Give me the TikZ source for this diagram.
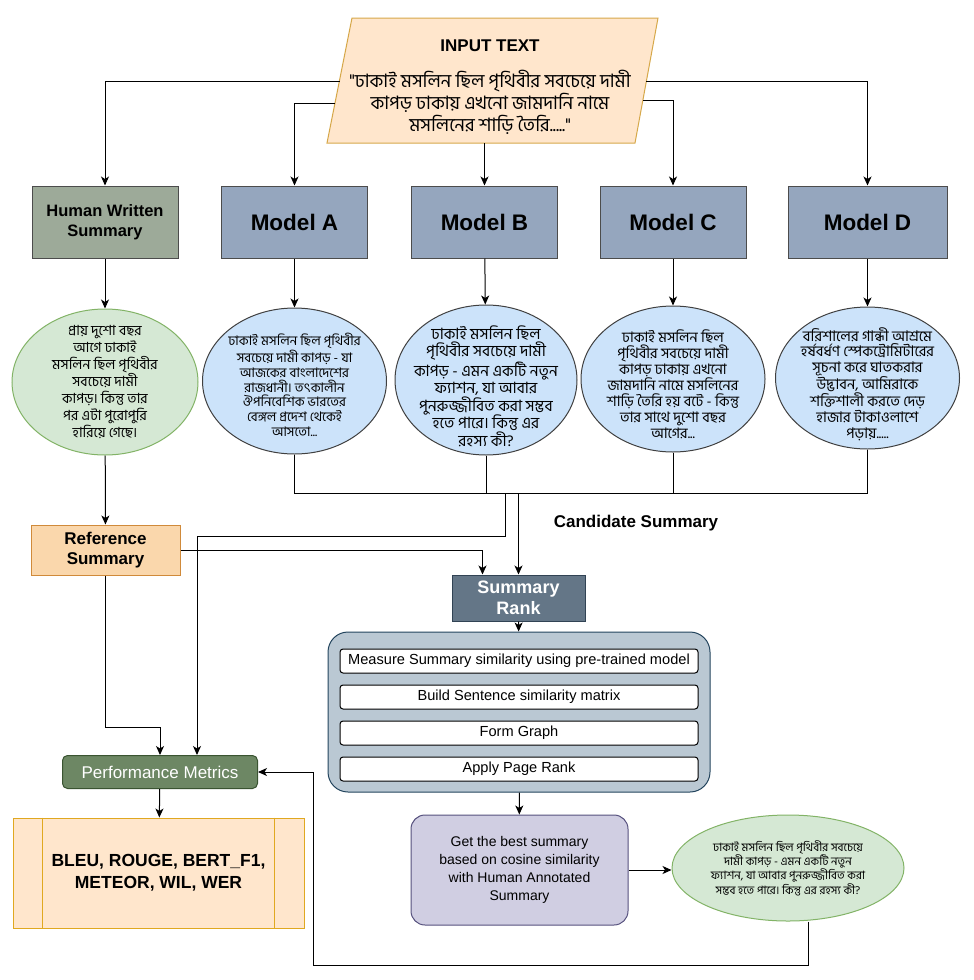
\documentclass[tikz,border=0pt]{standalone}
\usepackage{fontspec}
\setmainfont{Liberation Sans}
\newfontfamily\bn[Script=Bengali]{Hind Siliguri}
\usetikzlibrary{shapes.geometric,arrows.meta}

\definecolor{inputfill}{HTML}{FFE6CC}
\definecolor{inputline}{HTML}{D6A84A}
\definecolor{humanfill}{HTML}{9DAA99}
\definecolor{modelfill}{HTML}{95A6BE}
\definecolor{bluefill}{HTML}{CCE3FA}
\definecolor{greenfill}{HTML}{D5E8D4}
\definecolor{greenline}{HTML}{82B366}
\definecolor{reffill}{HTML}{FAD7AC}
\definecolor{refline}{HTML}{D08A3A}
\definecolor{rankfill}{HTML}{647687}
\definecolor{rankline}{HTML}{314354}
\definecolor{contfill}{HTML}{BAC8D3}
\definecolor{contline}{HTML}{23445D}
\definecolor{pmfill}{HTML}{6D8764}
\definecolor{pmline}{HTML}{3A5431}
\definecolor{metline}{HTML}{E0A820}
\definecolor{bestfill}{HTML}{D0CEE2}
\definecolor{bestline}{HTML}{56517E}

\begin{document}
\begin{tikzpicture}[x=1pt,y=-1pt,line width=1pt,
  arrow/.style={-{Stealth[length=9pt,width=8pt,inset=2.5pt]}},
  modelbox/.style={draw=black!70,fill=modelfill,minimum width=146pt,minimum height=72pt,font=\fontsize{22.5}{26}\selectfont\bfseries},
  blueell/.style={ellipse,draw=black!75,fill=bluefill,inner sep=0pt,minimum width=184pt,minimum height=146pt},
  greenell/.style={ellipse,draw=greenline,fill=greenfill,inner sep=0pt},
  bntext/.style={align=center,inner sep=0pt},
  stepbox/.style={draw=black,fill=white,rounded corners=3pt,minimum width=358pt,minimum height=24pt,font=\fontsize{14.6}{17}\selectfont}]

\useasboundingbox (0,0) rectangle (974,980);

% input
\draw[draw=inputline,fill=inputfill] (352,18) -- (658,18) -- (635,143) -- (327,143) -- cycle;
\node[bntext,font=\bn\fontsize{18.5}{22}\selectfont] (inputtxt) at (490,87)
  {{\rmfamily\bfseries\fontsize{17}{22}\selectfont INPUT TEXT}\\[14pt]
   "ঢাকাই মসলিন ছিল পৃথিবীর সবচেয়ে দামী\\
   কাপড় ঢাকায় এখনো জামদানি নামে\\
   মসলিনের শাড়ি তৈরি....."};
\coordinate (inW) at (339.5,81);
\coordinate (inW2) at (335,103);
\coordinate (inE) at (646,81);
\coordinate (inE2) at (643,100);
\coordinate (inS) at (485,143);

% summary boxes
\node[draw=black!70,fill=humanfill,minimum width=146pt,minimum height=72pt,align=center,
  font=\fontsize{16.5}{20}\selectfont\bfseries] (human) at (105,222) {Human Written\\Summary};
\node[modelbox] (modA) at (294.5,222) {Model A};
\node[modelbox] (modB) at (484.5,222) {Model B};
\node[modelbox] (modC) at (673,222) {Model C};
\node[modelbox,minimum width=159pt] (modD) at (867.5,222) {Model D};

\draw[arrow] (inW) -| (human.north);
\draw[arrow] (inW2) -| (modA.north);
\draw[arrow] (inS -| modB.north) -- (modB.north);
\draw[arrow] (inE2) -| (modC.north);
\draw[arrow] (inE) -| (modD.north);

% generated summaries
\node[greenell,minimum width=186pt,minimum height=146pt] (eH) at (105,382) {};
\node[bntext,font=\bn\fontsize{14}{17}\selectfont] (tH) at (eH)
  {প্রায় দুশো বছর\\আগে ঢাকাই\\মসলিন ছিল পৃথিবীর\\সবচেয়ে দামী\\কাপড়। কিন্তু তার\\পর এটা পুরোপুরি\\হারিয়ে গেছে।};
\node[blueell] (eA) at (294.5,381) {};
\node[bntext,font=\bn\fontsize{13.2}{14.8}\selectfont] (tA) at ([yshift=-4pt]eA)
  {ঢাকাই মসলিন ছিল পৃথিবীর\\সবচেয়ে দামী কাপড় - যা\\আজকের বাংলাদেশের\\রাজধানী। তৎকালীন\\ঔপনিবেশিক ভারতের\\বেঙ্গল প্রদেশ থেকেই\\আসতো...};
\node[blueell,minimum width=182pt,minimum height=150pt] (eB) at (486,380) {};
\node[bntext,font=\bn\fontsize{15.6}{17.5}\selectfont] (tB) at ([yshift=-6pt]eB)
  {ঢাকাই মসলিন ছিল\\পৃথিবীর সবচেয়ে দামী\\কাপড় - এমন একটি নতুন\\ফ্যাশন, যা আবার\\পুনরুজ্জীবিত করা সম্ভব\\হতে পারে। কিন্তু এর\\রহস্য কী?};
\node[blueell] (eC) at (673,379) {};
\node[bntext,font=\bn\fontsize{14.5}{16}\selectfont] (tC) at ([yshift=-5pt]eC)
  {ঢাকাই মসলিন ছিল\\পৃথিবীর সবচেয়ে দামী\\কাপড় ঢাকায় এখনো\\জামদানি নামে মসলিনের\\শাড়ি তৈরি হয় বটে - কিন্তু\\তার সাথে দুশো বছর\\আগের...};
\node[blueell,minimum height=142pt] (eD) at (867.5,378) {};
\node[bntext,font=\bn\fontsize{14.7}{15.6}\selectfont] (tD) at ([yshift=-6pt]eD)
  {বরিশালের গান্ধী আশ্রমে\\হর্ষবর্ধণ স্পেকট্রোমিটারের\\সূচনা করে ঘাতকরার\\উদ্ভাবন, আমিরাকে\\শক্তিশালী করতে দেড়\\হাজার টাকাওলাশে\\পড়ায়.....};

\draw[arrow] (human) -- (eH);
\draw[arrow] (modA) -- (eA);
\draw[arrow] (modB) -- (eB);
\draw[arrow] (modC) -- (eC);
\draw[arrow] (modD) -- (eD);

% candidate bar
\coordinate (bar) at (295,493);
\draw (eA.south) -- (eA.south |- bar) -- (eD.south |- bar) -- (eD.south);
\draw (eB.south) -- (eB.south |- bar);
\draw (eC.south) -- (eC.south |- bar);
\node[font=\fontsize{17}{20}\selectfont\bfseries] (cand) at (636,523) {Candidate Summary};

% reference and rank
\node[draw=refline,fill=reffill,minimum width=149pt,minimum height=50pt,align=center,
  font=\fontsize{17}{20}\selectfont\bfseries] (ref) at (105.5,550) {Reference\\Summary};
\draw[arrow] (eH) -- (ref);

\node[draw=rankline,fill=rankfill,text=white,minimum width=133pt,minimum height=46pt,align=center,
  font=\fontsize{18}{21}\selectfont\bfseries] (rank) at (518.5,598) {Summary\\Rank};

\node[draw=contline,fill=contfill,rounded corners=20pt,minimum width=382pt,minimum height=160pt] (cont) at (519,712) {};
\node[stepbox] (s1) at (519,661) {Measure Summary similarity using pre-trained model};
\node[stepbox] (s2) at (519,697) {Build Sentence similarity matrix};
\node[stepbox] (s3) at (519,733) {Form Graph};
\node[stepbox] (s4) at (519,769) {Apply Page Rank};

\node[draw=bestline,fill=bestfill,rounded corners=14pt,minimum width=217pt,minimum height=110pt,align=center,
  font=\fontsize{14}{18}\selectfont] (best) at (519.5,870) {Get the best summary\\based on cosine similarity\\with Human Annotated\\Summary};
\node[greenell,minimum width=232pt,minimum height=106pt] (eBest) at (788,868) {};
\node[bntext,font=\bn\fontsize{11.5}{14.3}\selectfont] (tBest) at (eBest)
  {ঢাকাই মসলিন ছিল পৃথিবীর সবচেয়ে\\দামী কাপড় - এমন একটি নতুন\\ফ্যাশন, যা আবার পুনরুজ্জীবিত করা\\সম্ভব হতে পারে। কিন্তু এর রহস্য কী?};

% metrics
\node[draw=pmline,fill=pmfill,text=white,rounded corners=5pt,minimum width=195pt,minimum height=33pt,
  font=\fontsize{17}{20}\selectfont] (perf) at (160,772) {Performance Metrics};
\node[draw=metline,fill=inputfill,minimum width=291pt,minimum height=110pt,align=center,
  font=\fontsize{17.5}{22}\selectfont\bfseries] (metrics) at (158.5,873) {BLEU, ROUGE, BERT\_F1,\\METEOR, WIL, WER};
\draw[metline] ([xshift=30pt]metrics.north west) -- ([xshift=30pt]metrics.south west);
\draw[metline] ([xshift=-30pt]metrics.north east) -- ([xshift=-30pt]metrics.south east);

% connectors
\draw[arrow] (bar -| rank.north) -- (rank.north);
\draw[arrow] (ref.east) -| ([xshift=-36pt]rank.north);
\draw[arrow] (505,493) -- (505,536) -| ([xshift=37pt]perf.north);
\draw[arrow] (ref.south) -- ++(0,152) -| (perf.north);
\draw[arrow] (rank) -- (cont);
\draw[arrow] (cont) -- (best);
\draw[arrow] (best.east) -- (best.east -| eBest.west);
\draw[arrow] (perf) -- (metrics);
\coordinate (back) at (313,965);
\draw[arrow] ([xshift=20pt]eBest.south) |- (back) |- (perf.east);

\end{tikzpicture}
\end{document}
